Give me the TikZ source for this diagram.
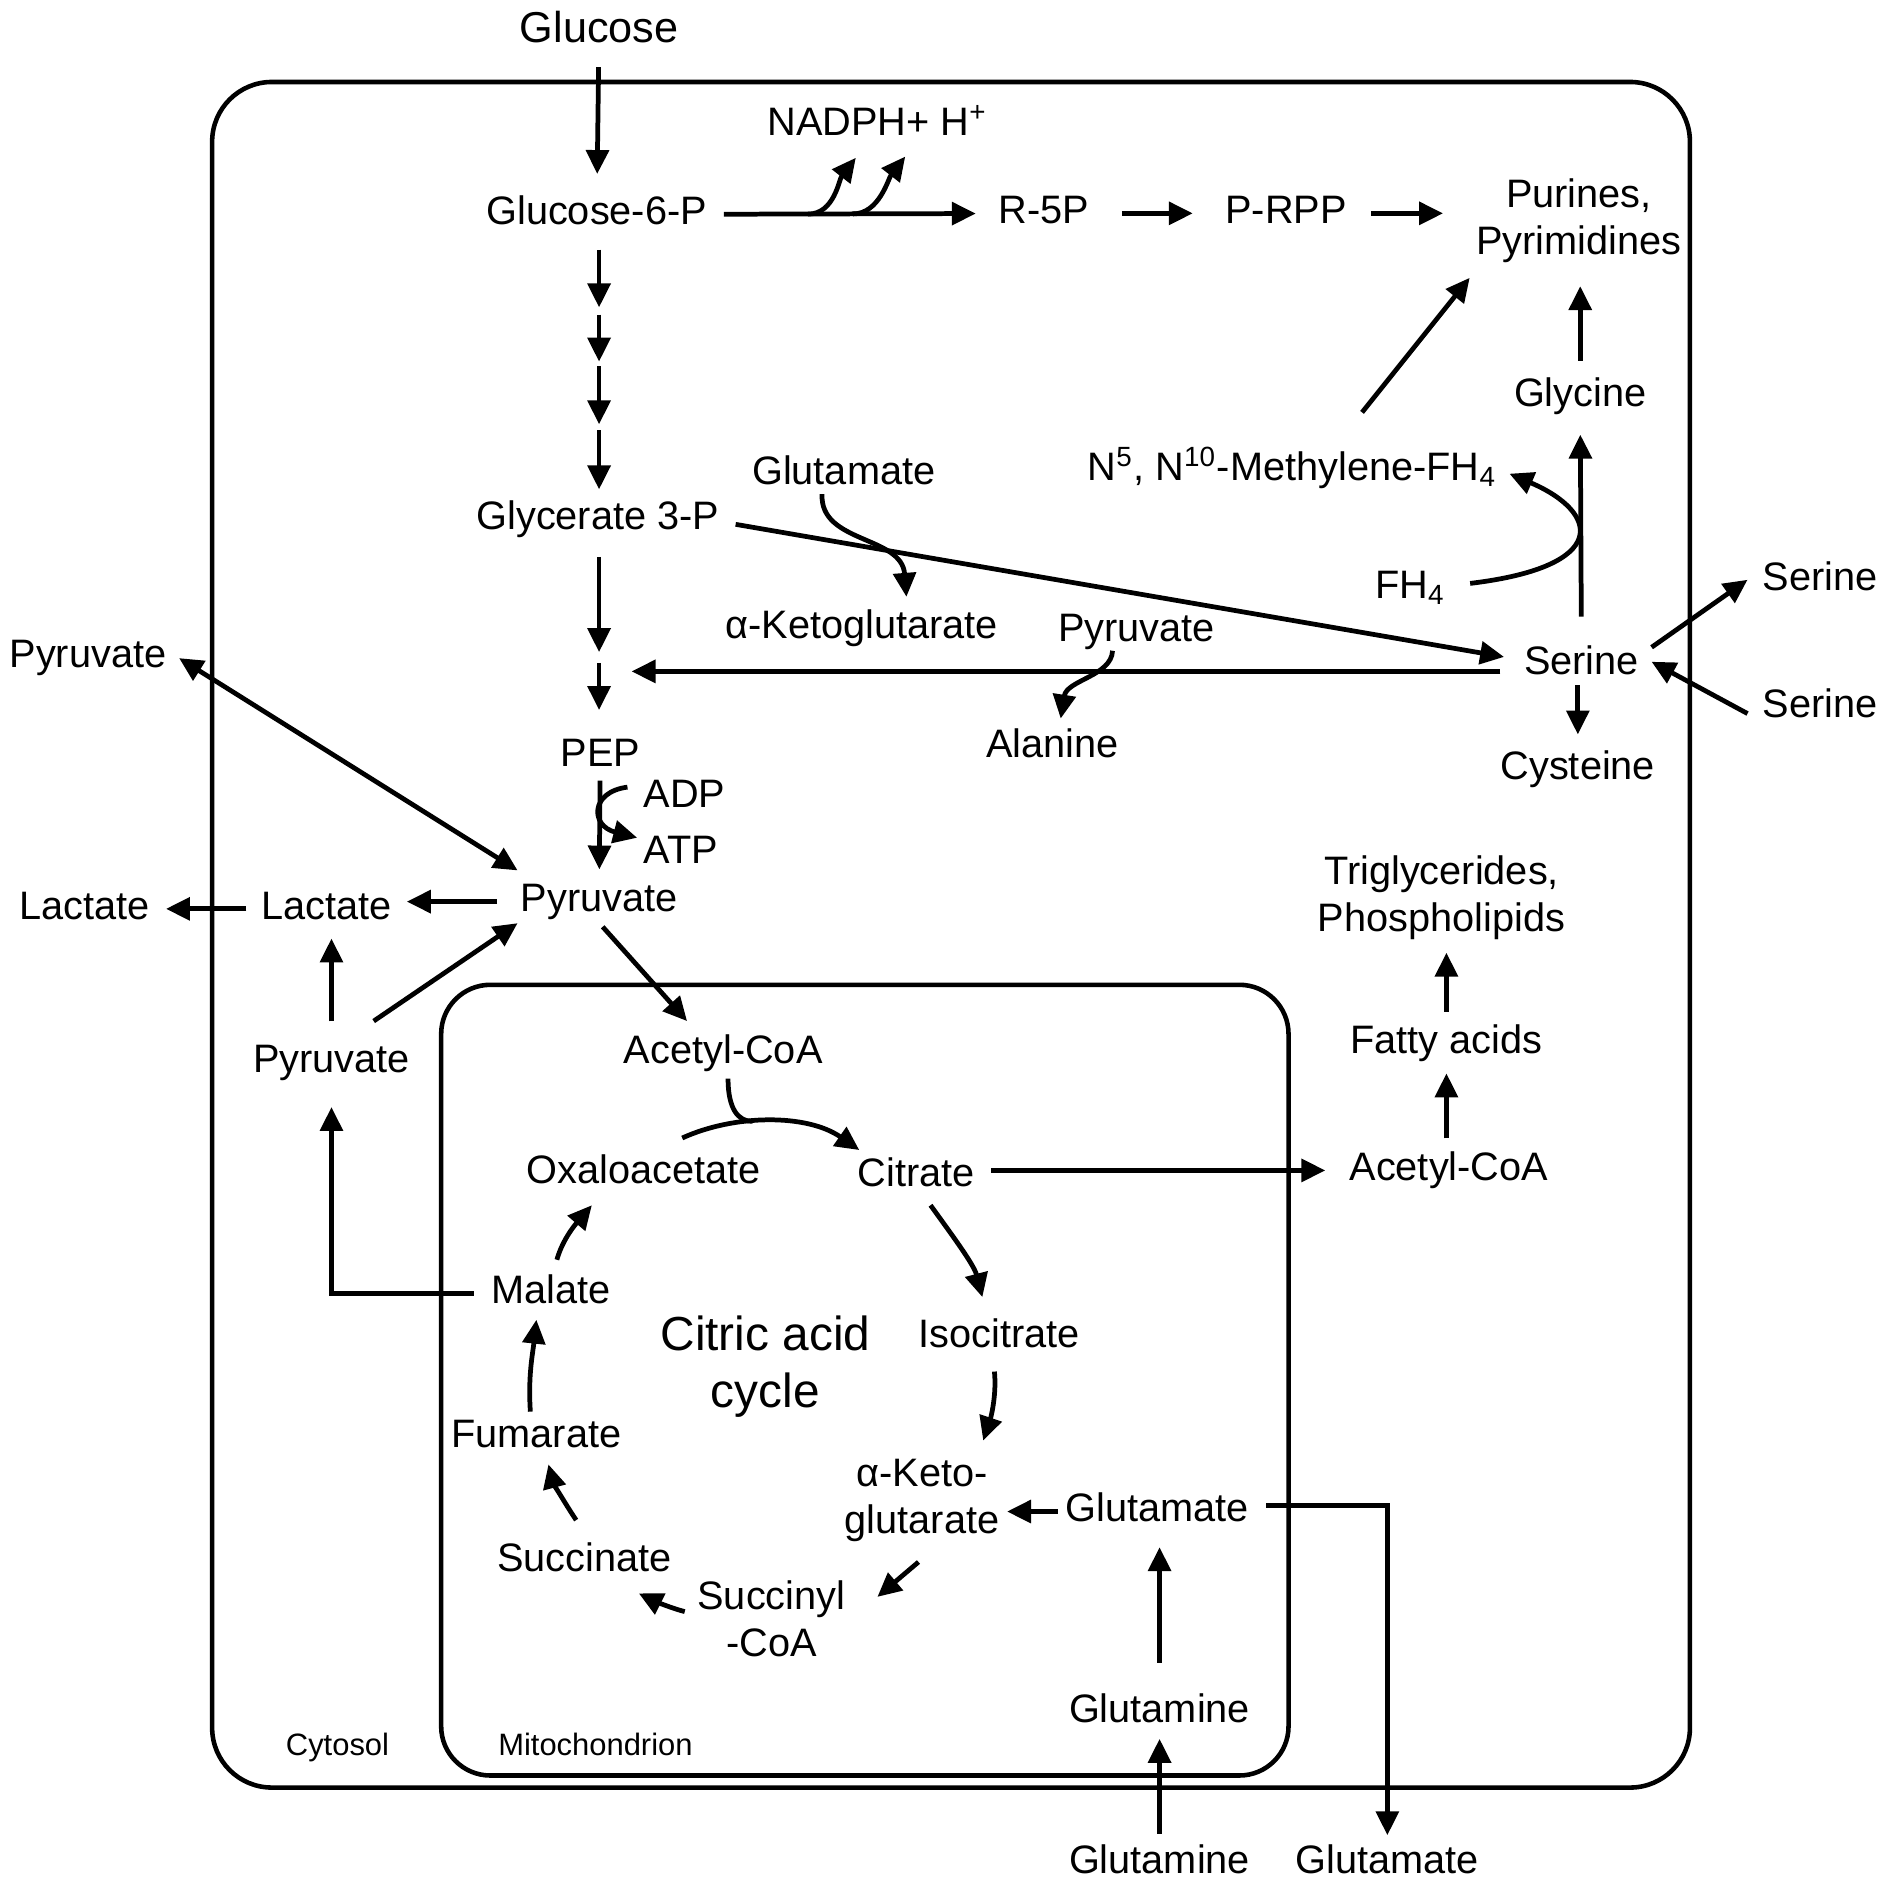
\documentclass[tikz,border=0pt]{standalone}
\usepackage{fontspec}
\setmainfont{Liberation Sans}
\usetikzlibrary{arrows.meta,calc}

\tikzset{
  mol/.style={inner sep=0pt, text height=8.2pt, text depth=2.3pt, font=\fontsize{11.3}{13.4}\selectfont},
  two/.style={inner sep=0pt, align=center, font=\fontsize{11.3}{13.4}\selectfont},
  arr/.style={->, line width=1.35pt},
  sh/.style 2 args={shorten <=#1, shorten >=#2},
  >={Triangle[length=6.8pt,width=6.4pt]}
}

\begin{document}
\begin{tikzpicture}[x=0.012054cm, y=-0.012054cm]
\useasboundingbox (0,0) rectangle (1568,1564.6);
\draw[line width=1.3pt, rounded corners=17pt] (176,68) rectangle (1402,1483);
\draw[line width=1.3pt, rounded corners=14pt] (366,817) rectangle (1069,1473);
\node[anchor=base, inner sep=0pt, font=\fontsize{8.8}{10}\selectfont] (cyt) at (280,1456) {Cytosol};
\node[anchor=base, inner sep=0pt, font=\fontsize{8.8}{10}\selectfont] (mito) at (494,1456) {Mitochondrion};

\node[mol, font=\fontsize{12.3}{14}\selectfont] (glc) at (497,27) {Glucose};
\node[mol] (g6p) at (495,178) {Glucose-6-P};
\node[mol] (nadph) at (728,104) {NADPH+ H\textsuperscript{+}};
\node[mol] (r5p) at (866,177) {R-5P};
\node[mol] (prpp) at (1067,177) {P-RPP};
\node[two] (pur) at (1310,183) {Purines,\\Pyrimidines};
\node[mol] (gly) at (1311,329) {Glycine};
\node[mol] (mthf) at (1072,390) {N\textsuperscript{5}, N\textsuperscript{10}-Methylene-FH\textsubscript{4}};
\node[mol] (glu1) at (700,393) {Glutamate};
\node[mol] (g3p) at (496,431) {Glycerate 3-P};
\node[mol] (fh4) at (1170,488) {FH\textsubscript{4}};
\node[mol] (akg1) at (715,521) {α-Ketoglutarate};
\node[mol] (pyr2) at (943,524) {Pyruvate};
\node[mol] (ser) at (1312,551) {Serine};
\node[mol] (serout) at (1510,481) {Serine};
\node[mol] (serin) at (1510,587) {Serine};
\node[mol] (pyrout) at (73,545) {Pyruvate};
\node[mol] (ala) at (873,620) {Alanine};
\node[mol] (cys) at (1309,638) {Cysteine};
\node[mol] (pep) at (498,627) {PEP};
\node[mol] (adp) at (568,661) {ADP};
\node[mol] (atp) at (565,708) {ATP};
\node[two] (tg) at (1196,745) {Triglycerides,\\Phospholipids};
\node[mol] (lacout) at (70,754) {Lactate};
\node[mol] (lac) at (271,754) {Lactate};
\node[mol] (pyr) at (497,748) {Pyruvate};
\node[mol] (pyrc) at (275,881) {Pyruvate};
\node[mol] (acoa) at (600,874) {Acetyl-CoA};
\node[mol] (fa) at (1200,865) {Fatty acids};
\node[mol] (oaa) at (534,973) {Oxaloacetate};
\node[mol] (cit) at (760,976) {Citrate};
\node[mol] (acoa2) at (1202,971) {Acetyl-CoA};
\node[mol] (mal) at (457,1073) {Malate};
\node[two, font=\fontsize{13.6}{16.2}\selectfont] (cac) at (635,1134) {Citric acid\\cycle};
\node[mol] (icit) at (829,1109) {Isocitrate};
\node[mol] (fum) at (445,1192) {Fumarate};
\node[two] (akg2) at (765,1245) {α-Keto-\\glutarate};
\node[mol] (glu2) at (960,1254) {Glutamate};
\node[mol] (suc) at (485,1295) {Succinate};
\node[two] (sca) at (640,1343) {Succinyl\\-CoA};
\node[mol] (gln) at (962,1420) {Glutamine};
\node[mol] (glnout) at (962,1546) {Glutamine};
\node[mol] (gluout) at (1151,1546) {Glutamate};

% glycolysis
\draw[arr, sh={4.4pt}{6.1pt}] (glc) -- (g6p);
\foreach \a/\b in {207/255,261/300,304/352,357/406,462/541,550/589}
  \draw[arr] (glc.south |- 0,\a) -- (glc.south |- 0,\b);
\coordinate (merge) at (524,557);
\draw[arr, sh={1.6pt}{3.7pt}] (pep) -- (pyr);
\draw[arr] ($(adp.west)+(-13,-8)$) .. controls +(-31,4) and +(-39,-10) .. ($(atp.west)+(-5,-13)$);

% pentose phosphate
\draw[arr, sh={4.6pt}{6.3pt}] (g6p) -- (r5p);
\coordinate (nb1) at ($(g6p.east)!0.345!(r5p.west)$); \coordinate (nb2) at ($(g6p.east)!0.5!(r5p.west)$);
\coordinate (nt1) at ($(nadph.south)+(-18,11)$); \coordinate (nt2) at ($(nadph.south)+(23,10)$);
\draw[arr] (nb1) .. controls +(22,0) and +(-14,18) .. (nt1);
\draw[arr] (nb2) .. controls +(22,0) and +(-14,18) .. (nt2);
\draw[arr, sh={9.1pt}{9.1pt}] (r5p) -- (prpp);
\draw[arr, sh={6.7pt}{9.3pt}] (prpp.east) -- (prpp.east -| pur.west);

% serine
\draw[arr] ($(g3p.east)+(13,4)$) -- ($(ser.west)+(-16,-6)$);
\draw[arr] ($(glu1.south)+(-18,1)$) .. controls +(-2,41) and +(-4,-51) .. ($(akg1.north)+(37,-10)$);
\draw[arr] ($(ser.west)+(-19,6)$) -- (merge);
\draw[arr] ($(pyr2.south)+(-20,0)$) .. controls +(-1,21) and +(5,-32) .. ($(ala.north)+(7,-8)$);
\draw[arr, sh={8.1pt}{5.4pt}] (ser.north) -- (gly.south);
\draw[arr, sh={4.7pt}{6.5pt}] (gly.north) -- (gly.north |- pur.south);
\draw[arr] ($(fh4.east)+(20,-4)$) .. controls +(117,-14) and +(75,32) .. ($(mthf.east)+(10,3)$);
\draw[arr] ($(mthf.north)+(58,-32)$) -- ($(pur.south west)+(-5,12)$);
\draw[arr, sh={0.6pt}{4.4pt}] (cys.north |- ser.south) -- (cys.north);
\draw[arr] ($(ser.east)+(10,-14)$) -- ($(serout.west)+(-12,0)$);
\draw[arr] ($(serin.west)+(-12,5)$) -- ($(ser.east)+(10,-2)$);

% pyruvate and lactate
\draw[<->, line width=1.35pt] ($(pyrout.east)+(10,1)$) -- ($(pyr.north west)+(-2,-10)$);
\draw[arr, sh={6.5pt}{4.1pt}] (pyr.west) -- (pyr.west -| lac.east);
\draw[arr, sh={4.1pt}{4.5pt}] (lac) -- (lacout);
\draw[arr, sh={6.1pt}{3pt}] (pyrc.north) -- (pyrc.north |- lac.south);
\draw[arr] ($(pyrc.north)+(35,-18)$) -- ($(pyr.south west)+(-2,2)$);
\draw[arr] ($(pyr.south)+(3,5)$) -- ($(acoa.north)+(-30,-11)$);

% citric acid cycle
\draw[arr] ($(oaa.north)+(32,-13)$) .. controls +(44,-20) and +(-43,-30) .. coordinate[pos=0.4] (join) ($(cit.north west)+(2,-6)$);
\draw[line width=1.35pt] ($(acoa.south)+(4,5)$) .. controls +(0,25) and +(-12,0) .. (join);
\draw[arr] ($(cit.south)+(12,8)$) .. controls +(18,25) and +(-7,-27) .. ($(icit.north)+(-14,-17)$);
\draw[arr] ($(icit.south)+(-4,13)$) .. controls +(2,20) and +(6,-18) .. ($(akg2.north east)+(-14,-15)$);
\draw[arr] ($(akg2.south)+(-3,16)$) -- ($(sca.north east)+(26,14)$);
\draw[arr] ($(sca.west)+(-10,-6)$) .. controls +(-12,-3) and +(10,5) .. ($(suc.south)+(45,11)$);
\draw[arr] ($(suc.north)+(-7,-18)$) .. controls +(-10,-15) and +(4,15) .. ($(fum.south)+(10,7)$);
\draw[arr] ($(fum.north)+(-5,-5)$) .. controls +(-2,-30) and +(-3,28) .. ($(mal.south)+(-12,6)$);
\draw[arr] ($(mal.north)+(5,-12)$) .. controls +(5,-18) and +(-12,14) .. ($(oaa.south)+(-43,11)$);
\draw[arr, sh={4.8pt}{7.4pt}] (mal.west) -| (pyrc.south);

% fatty acids
\draw[arr, sh={4.6pt}{6.7pt}] (acoa2.west -| cit.east) -- (acoa2.west);
\draw[arr, sh={3.7pt}{3.3pt}] (fa.south |- acoa2.north) -- (fa.south);
\draw[arr, sh={3.3pt}{3.4pt}] (fa.north) -- (fa.north |- tg.south);

% glutamine
\draw[arr, sh={2pt}{2pt}] (glu2.west) -- (glu2.west -| akg2.east);
\draw[arr, sh={8.5pt}{4.7pt}] (gln.north) -- (gln.north |- glu2.south);
\draw[arr, sh={3pt}{2.3pt}] (glnout) -- (gln);
\draw[arr, sh={0pt}{2.6pt}] ($(glu2.east)+(14,-5)$) -| (gluout.north);
\end{tikzpicture}
\end{document}
